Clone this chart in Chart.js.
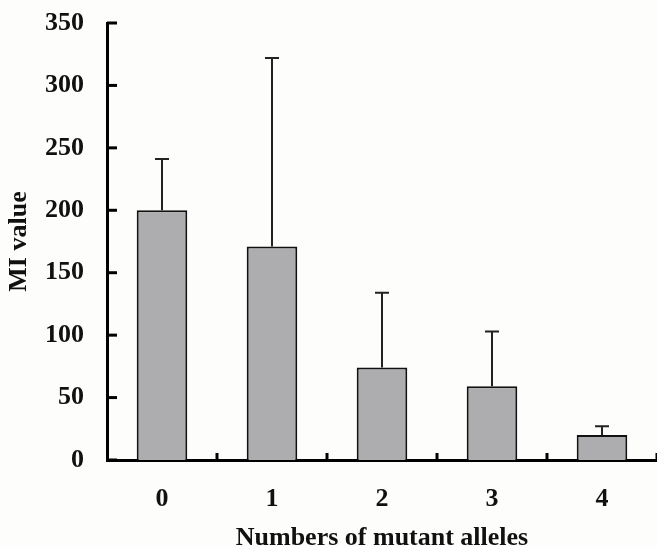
<!DOCTYPE html>
<html>
<head>
<meta charset="utf-8">
<script src="https://cdn.jsdelivr.net/npm/chart.js@4"></script>
<style>
    html, body { margin: 0; padding: 0; background: #fdfdfb; }
    #wrap { width: 657px; height: 547px; }
</style>
</head>
<body>
<div id="wrap"><canvas id="miChart"></canvas></div>
<script>
const alleleCounts = ['0', '1', '2', '3', '4'];
const miValues = [200, 171, 74, 59, 20];
const miErrors = [41, 151, 60, 44, 7];
const yTicks = [0, 50, 100, 150, 200, 250, 300, 350];

const fontFamily = '"Liberation Serif", "Times New Roman", serif';

// draws the upper error bars and the inward tick marks
const errorBarPlugin = {
    id: 'errorBars',
    afterDatasetsDraw(chart) {
        const ctx = chart.ctx;
        const yScale = chart.scales.y;
        const meta = chart.getDatasetMeta(0);

        ctx.save();
        ctx.strokeStyle = '#222';
        ctx.lineWidth = 2;
        meta.data.forEach((bar, i) => {
            const top = yScale.getPixelForValue(miValues[i] + miErrors[i]);
            ctx.beginPath();
            ctx.moveTo(bar.x, bar.y);
            ctx.lineTo(bar.x, top);
            ctx.moveTo(bar.x - 7, top);
            ctx.lineTo(bar.x + 7, top);
            ctx.stroke();
        });
        ctx.restore();
    },
    afterDraw(chart) {
        const ctx = chart.ctx;
        const xScale = chart.scales.x;
        const yScale = chart.scales.y;
        const area = chart.chartArea;

        ctx.save();
        ctx.strokeStyle = '#000';
        ctx.lineWidth = 3;
        yTicks.forEach(v => {
            const y = yScale.getPixelForValue(v);
            ctx.beginPath();
            ctx.moveTo(area.left, y);
            ctx.lineTo(area.left + 10, y);
            ctx.stroke();
        });
        for (let i = 1; i <= alleleCounts.length; i++) {
            const x = xScale.getPixelForValue(i - 0.5);
            ctx.beginPath();
            ctx.moveTo(x, area.bottom);
            ctx.lineTo(x, area.bottom - 7);
            ctx.stroke();
        }
        ctx.restore();
    }
};

new Chart(document.getElementById('miChart'), {
    type: 'bar',
    data: {
        labels: alleleCounts,
        datasets: [{
            data: miValues,
            backgroundColor: '#adacae',
            borderColor: '#111',
            borderWidth: 2,
            borderSkipped: 'bottom',
            categoryPercentage: 0.46,
            barPercentage: 1.0
        }]
    },
    options: {
        responsive: true,
        maintainAspectRatio: false,
        animation: false,
        layout: { padding: { top: 23, right: 0, left: 0, bottom: 0 } },
        plugins: {
            legend: { display: false },
            tooltip: { enabled: false }
        },
        scales: {
            x: {
                grid: { display: false, drawTicks: false },
                border: { display: true, color: '#000', width: 3 },
                ticks: {
                    color: '#111',
                    padding: 24,
                    font: { family: fontFamily, size: 26, weight: 'bold' }
                },
                title: {
                    display: true,
                    text: 'Numbers of mutant alleles',
                    color: '#111',
                    padding: { top: 0, bottom: -4 },
                    font: { family: fontFamily, size: 26, weight: 'bold', lineHeight: 1 }
                },
                afterFit(scale) {
                    scale.height = 87;
                    scale.paddingLeft = 0;
                    scale.paddingRight = 0;
                }
            },
            y: {
                min: 0,
                max: 350,
                grid: { display: false, drawTicks: false },
                border: { display: true, color: '#000', width: 3 },
                afterBuildTicks(scale) {
                    scale.ticks = yTicks.map(v => ({ value: v }));
                },
                ticks: {
                    color: '#111',
                    padding: 23,
                    font: { family: fontFamily, size: 26, weight: 'bold' }
                },
                title: {
                    display: true,
                    text: 'MI value',
                    color: '#111',
                    padding: { top: 4, bottom: 0 },
                    font: { family: fontFamily, size: 26, weight: 'bold' }
                },
                afterFit(scale) {
                    scale.width = 107;
                    scale.paddingTop = 0;
                    scale.paddingBottom = 0;
                }
            }
        }
    },
    plugins: [errorBarPlugin]
});
</script>
</body>
</html>
